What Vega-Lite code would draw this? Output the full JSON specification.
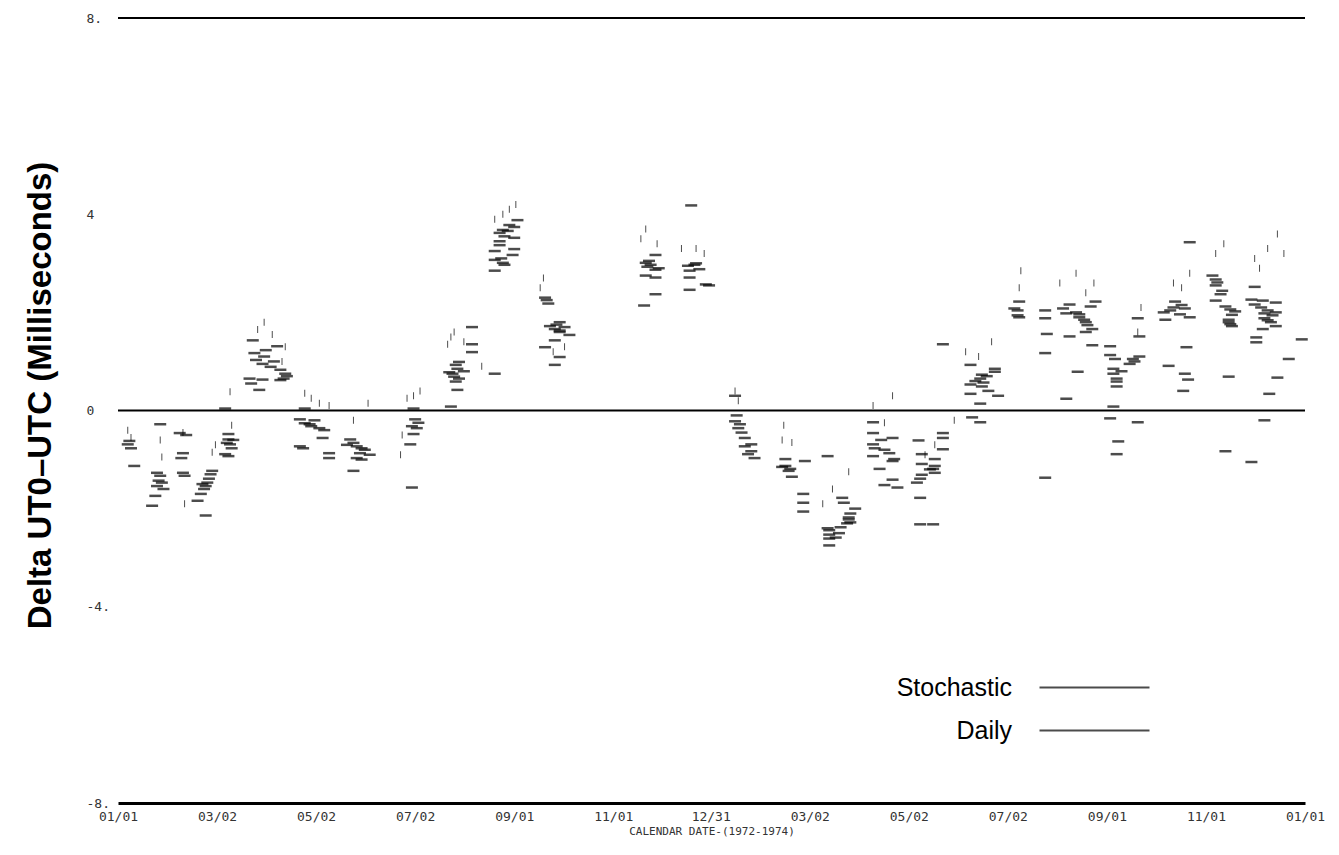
{
  "$schema": "https://vega.github.io/schema/vega-lite/v6.json",
  "width": 1187,
  "height": 785,
  "autosize": {"type": "none"},
  "padding": {"left": 118, "top": 18, "right": 34, "bottom": 52},
  "background": "white",
  "config": {"view": {"stroke": null}, "font": "DejaVu Sans Mono"},
  "datasets": {
    "levels": [{"ms": 8}, {"ms": 0}],
    "obs": [
      {"day":6,"ms":-0.69,"series":"Daily"},{"day":8,"ms":-0.77,"series":"Daily"},{"day":10,"ms":-1.13,"series":"Daily"},{"day":7,"ms":-0.62,"series":"Daily"},
      {"day":26,"ms":-0.28,"series":"Daily"},{"day":24,"ms":-1.27,"series":"Daily"},{"day":26,"ms":-1.33,"series":"Daily"},{"day":25,"ms":-1.43,"series":"Daily"},{"day":27,"ms":-1.47,"series":"Daily"},{"day":24,"ms":-1.54,"series":"Daily"},{"day":23,"ms":-1.74,"series":"Daily"},{"day":21,"ms":-1.94,"series":"Daily"},{"day":28,"ms":-1.6,"series":"Daily"},
      {"day":38,"ms":-0.46,"series":"Daily"},{"day":40,"ms":-0.87,"series":"Daily"},{"day":39,"ms":-0.97,"series":"Daily"},{"day":40,"ms":-1.27,"series":"Daily"},{"day":41,"ms":-1.33,"series":"Daily"},{"day":42,"ms":-0.5,"series":"Daily"},
      {"day":58,"ms":-1.23,"series":"Daily"},{"day":57,"ms":-1.3,"series":"Daily"},{"day":56,"ms":-1.39,"series":"Daily"},{"day":55,"ms":-1.47,"series":"Daily"},{"day":54,"ms":-1.54,"series":"Daily"},{"day":53,"ms":-1.6,"series":"Daily"},{"day":51,"ms":-1.7,"series":"Daily"},{"day":49,"ms":-1.84,"series":"Daily"},{"day":54,"ms":-2.14,"series":"Daily"},{"day":52,"ms":-1.5,"series":"Daily"},
      {"day":66,"ms":0.04,"series":"Daily"},{"day":68,"ms":-0.48,"series":"Daily"},{"day":68,"ms":-0.59,"series":"Daily"},{"day":67,"ms":-0.66,"series":"Daily"},{"day":69,"ms":-0.69,"series":"Daily"},{"day":70,"ms":-0.77,"series":"Daily"},{"day":66,"ms":-0.89,"series":"Daily"},{"day":68,"ms":-0.93,"series":"Daily"},{"day":71,"ms":-0.6,"series":"Daily"},
      {"day":83,"ms":1.43,"series":"Daily"},{"day":98,"ms":1.31,"series":"Daily"},{"day":91,"ms":1.23,"series":"Daily"},{"day":85,"ms":1.03,"series":"Daily"},{"day":89,"ms":0.95,"series":"Daily"},{"day":94,"ms":0.89,"series":"Daily"},{"day":100,"ms":0.83,"series":"Daily"},{"day":103,"ms":0.75,"series":"Daily"},{"day":81,"ms":0.65,"series":"Daily"},{"day":89,"ms":0.63,"series":"Daily"},{"day":102,"ms":0.65,"series":"Daily"},{"day":82,"ms":0.55,"series":"Daily"},{"day":87,"ms":0.42,"series":"Daily"},{"day":90,"ms":1.1,"series":"Daily"},{"day":96,"ms":1.0,"series":"Daily"},{"day":84,"ms":1.17,"series":"Daily"},{"day":100,"ms":0.62,"series":"Daily"},{"day":104,"ms":0.7,"series":"Daily"},
      {"day":115,"ms":0.04,"series":"Daily"},{"day":112,"ms":-0.18,"series":"Daily"},{"day":115,"ms":-0.26,"series":"Daily"},{"day":119,"ms":-0.32,"series":"Daily"},{"day":124,"ms":-0.36,"series":"Daily"},{"day":126,"ms":-0.56,"series":"Daily"},{"day":114,"ms":-0.77,"series":"Daily"},{"day":130,"ms":-0.87,"series":"Daily"},{"day":130,"ms":-0.97,"series":"Daily"},{"day":112,"ms":-0.73,"series":"Daily"},{"day":121,"ms":-0.2,"series":"Daily"},{"day":127,"ms":-0.4,"series":"Daily"},{"day":118,"ms":-0.28,"series":"Daily"},
      {"day":143,"ms":-0.59,"series":"Daily"},{"day":145,"ms":-0.66,"series":"Daily"},{"day":147,"ms":-0.73,"series":"Daily"},{"day":150,"ms":-0.77,"series":"Daily"},{"day":152,"ms":-0.8,"series":"Daily"},{"day":149,"ms":-0.87,"series":"Daily"},{"day":147,"ms":-0.97,"series":"Daily"},{"day":150,"ms":-1.0,"series":"Daily"},{"day":145,"ms":-1.23,"series":"Daily"},{"day":141,"ms":-0.7,"series":"Daily"},{"day":155,"ms":-0.9,"series":"Daily"},
      {"day":182,"ms":0.04,"series":"Daily"},{"day":183,"ms":-0.18,"series":"Daily"},{"day":181,"ms":-0.32,"series":"Daily"},{"day":184,"ms":-0.36,"series":"Daily"},{"day":182,"ms":-0.48,"series":"Daily"},{"day":180,"ms":-0.69,"series":"Daily"},{"day":181,"ms":-1.57,"series":"Daily"},{"day":185,"ms":-0.25,"series":"Daily"},
      {"day":218,"ms":1.7,"series":"Daily"},{"day":218,"ms":1.35,"series":"Daily"},{"day":218,"ms":1.19,"series":"Daily"},{"day":210,"ms":0.99,"series":"Daily"},{"day":208,"ms":0.93,"series":"Daily"},{"day":209,"ms":0.85,"series":"Daily"},{"day":206,"ms":0.75,"series":"Daily"},{"day":207,"ms":0.69,"series":"Daily"},{"day":210,"ms":0.65,"series":"Daily"},{"day":208,"ms":0.59,"series":"Daily"},{"day":209,"ms":0.42,"series":"Daily"},{"day":205,"ms":0.08,"series":"Daily"},{"day":232,"ms":0.75,"series":"Daily"},{"day":213,"ms":0.8,"series":"Daily"},{"day":204,"ms":0.78,"series":"Daily"},
      {"day":246,"ms":3.88,"series":"Daily"},{"day":241,"ms":3.78,"series":"Daily"},{"day":244,"ms":3.74,"series":"Daily"},{"day":237,"ms":3.68,"series":"Daily"},{"day":240,"ms":3.66,"series":"Daily"},{"day":235,"ms":3.62,"series":"Daily"},{"day":244,"ms":3.52,"series":"Daily"},{"day":235,"ms":3.45,"series":"Daily"},{"day":235,"ms":3.37,"series":"Daily"},{"day":244,"ms":3.29,"series":"Daily"},{"day":232,"ms":3.25,"series":"Daily"},{"day":243,"ms":3.17,"series":"Daily"},{"day":232,"ms":3.07,"series":"Daily"},{"day":237,"ms":3.01,"series":"Daily"},{"day":238,"ms":2.97,"series":"Daily"},{"day":232,"ms":2.85,"series":"Daily"},{"day":238,"ms":3.55,"series":"Daily"},{"day":236,"ms":3.1,"series":"Daily"},
      {"day":263,"ms":2.3,"series":"Daily"},{"day":264,"ms":2.25,"series":"Daily"},{"day":265,"ms":2.18,"series":"Daily"},{"day":272,"ms":1.8,"series":"Daily"},{"day":270,"ms":1.75,"series":"Daily"},{"day":269,"ms":1.66,"series":"Daily"},{"day":272,"ms":1.63,"series":"Daily"},{"day":272,"ms":1.6,"series":"Daily"},{"day":278,"ms":1.54,"series":"Daily"},{"day":269,"ms":1.43,"series":"Daily"},{"day":263,"ms":1.29,"series":"Daily"},{"day":272,"ms":1.09,"series":"Daily"},{"day":269,"ms":0.93,"series":"Daily"},{"day":275,"ms":1.7,"series":"Daily"},{"day":266,"ms":1.72,"series":"Daily"},
      {"day":325,"ms":3.01,"series":"Daily"},{"day":328,"ms":2.97,"series":"Daily"},{"day":326,"ms":2.93,"series":"Daily"},{"day":331,"ms":2.87,"series":"Daily"},{"day":325,"ms":2.75,"series":"Daily"},{"day":331,"ms":2.71,"series":"Daily"},{"day":331,"ms":2.37,"series":"Daily"},{"day":324,"ms":2.14,"series":"Daily"},{"day":331,"ms":3.17,"series":"Daily"},{"day":327,"ms":3.05,"series":"Daily"},{"day":333,"ms":2.9,"series":"Daily"},
      {"day":353,"ms":4.18,"series":"Daily"},{"day":351,"ms":2.95,"series":"Daily"},{"day":355,"ms":2.97,"series":"Daily"},{"day":352,"ms":2.85,"series":"Daily"},{"day":352,"ms":2.71,"series":"Daily"},{"day":362,"ms":2.57,"series":"Daily"},{"day":364,"ms":2.55,"series":"Daily"},{"day":352,"ms":2.46,"series":"Daily"},{"day":358,"ms":2.88,"series":"Daily"},{"day":356,"ms":3.0,"series":"Daily"},
      {"day":380,"ms":0.3,"series":"Daily"},{"day":380,"ms":-0.22,"series":"Daily"},{"day":382,"ms":-0.36,"series":"Daily"},{"day":383,"ms":-0.28,"series":"Daily"},{"day":386,"ms":-0.56,"series":"Daily"},{"day":386,"ms":-0.73,"series":"Daily"},{"day":390,"ms":-0.69,"series":"Daily"},{"day":390,"ms":-0.83,"series":"Daily"},{"day":388,"ms":-0.89,"series":"Daily"},{"day":392,"ms":-0.97,"series":"Daily"},{"day":384,"ms":-0.45,"series":"Daily"},{"day":381,"ms":-0.1,"series":"Daily"},
      {"day":411,"ms":-0.99,"series":"Daily"},{"day":423,"ms":-1.03,"series":"Daily"},{"day":411,"ms":-1.13,"series":"Daily"},{"day":414,"ms":-1.19,"series":"Daily"},{"day":413,"ms":-1.23,"series":"Daily"},{"day":415,"ms":-1.35,"series":"Daily"},{"day":422,"ms":-1.7,"series":"Daily"},{"day":422,"ms":-1.88,"series":"Daily"},{"day":422,"ms":-2.06,"series":"Daily"},{"day":409,"ms":-1.15,"series":"Daily"},
      {"day":437,"ms":-0.93,"series":"Daily"},{"day":446,"ms":-1.78,"series":"Daily"},{"day":447,"ms":-1.88,"series":"Daily"},{"day":454,"ms":-2.0,"series":"Daily"},{"day":451,"ms":-2.1,"series":"Daily"},{"day":450,"ms":-2.18,"series":"Daily"},{"day":450,"ms":-2.22,"series":"Daily"},{"day":451,"ms":-2.28,"series":"Daily"},{"day":445,"ms":-2.38,"series":"Daily"},{"day":437,"ms":-2.4,"series":"Daily"},{"day":438,"ms":-2.44,"series":"Daily"},{"day":438,"ms":-2.53,"series":"Daily"},{"day":442,"ms":-2.59,"series":"Daily"},{"day":438,"ms":-2.61,"series":"Daily"},{"day":438,"ms":-2.75,"series":"Daily"},{"day":444,"ms":-2.5,"series":"Daily"},{"day":449,"ms":-2.3,"series":"Daily"},
      {"day":465,"ms":-0.24,"series":"Daily"},{"day":465,"ms":-0.46,"series":"Daily"},{"day":477,"ms":-0.56,"series":"Daily"},{"day":465,"ms":-0.69,"series":"Daily"},{"day":466,"ms":-0.77,"series":"Daily"},{"day":472,"ms":-0.8,"series":"Daily"},{"day":475,"ms":-0.87,"series":"Daily"},{"day":465,"ms":-0.93,"series":"Daily"},{"day":478,"ms":-0.99,"series":"Daily"},{"day":477,"ms":-1.03,"series":"Daily"},{"day":469,"ms":-1.19,"series":"Daily"},{"day":477,"ms":-1.41,"series":"Daily"},{"day":472,"ms":-1.52,"series":"Daily"},{"day":480,"ms":-1.57,"series":"Daily"},{"day":470,"ms":-0.6,"series":"Daily"},
      {"day":508,"ms":-0.46,"series":"Daily"},{"day":508,"ms":-0.56,"series":"Daily"},{"day":493,"ms":-0.61,"series":"Daily"},{"day":508,"ms":-0.79,"series":"Daily"},{"day":495,"ms":-0.89,"series":"Daily"},{"day":503,"ms":-0.99,"series":"Daily"},{"day":495,"ms":-1.09,"series":"Daily"},{"day":503,"ms":-1.13,"series":"Daily"},{"day":502,"ms":-1.19,"series":"Daily"},{"day":503,"ms":-1.27,"series":"Daily"},{"day":495,"ms":-1.31,"series":"Daily"},{"day":494,"ms":-1.39,"series":"Daily"},{"day":492,"ms":-1.47,"series":"Daily"},{"day":494,"ms":-1.78,"series":"Daily"},{"day":494,"ms":-2.32,"series":"Daily"},{"day":502,"ms":-2.32,"series":"Daily"},{"day":500,"ms":-1.2,"series":"Daily"},
      {"day":508,"ms":1.35,"series":"Daily"},{"day":525,"ms":0.93,"series":"Daily"},{"day":540,"ms":0.85,"series":"Daily"},{"day":540,"ms":0.79,"series":"Daily"},{"day":532,"ms":0.73,"series":"Daily"},{"day":531,"ms":0.65,"series":"Daily"},{"day":533,"ms":0.57,"series":"Daily"},{"day":525,"ms":0.53,"series":"Daily"},{"day":532,"ms":0.49,"series":"Daily"},{"day":536,"ms":0.4,"series":"Daily"},{"day":525,"ms":0.34,"series":"Daily"},{"day":542,"ms":0.3,"series":"Daily"},{"day":531,"ms":0.14,"series":"Daily"},{"day":526,"ms":-0.14,"series":"Daily"},{"day":531,"ms":-0.24,"series":"Daily"},{"day":528,"ms":0.6,"series":"Daily"},{"day":535,"ms":0.7,"series":"Daily"},
      {"day":555,"ms":2.22,"series":"Daily"},{"day":552,"ms":2.08,"series":"Daily"},{"day":554,"ms":2.04,"series":"Daily"},{"day":554,"ms":1.94,"series":"Daily"},{"day":555,"ms":1.9,"series":"Daily"},
      {"day":571,"ms":2.04,"series":"Daily"},{"day":571,"ms":1.88,"series":"Daily"},{"day":572,"ms":1.56,"series":"Daily"},{"day":571,"ms":1.17,"series":"Daily"},{"day":571,"ms":-1.37,"series":"Daily"},
      {"day":602,"ms":2.22,"series":"Daily"},{"day":586,"ms":2.16,"series":"Daily"},{"day":599,"ms":2.12,"series":"Daily"},{"day":582,"ms":2.08,"series":"Daily"},{"day":584,"ms":1.98,"series":"Daily"},{"day":592,"ms":1.96,"series":"Daily"},{"day":592,"ms":1.9,"series":"Daily"},{"day":596,"ms":1.8,"series":"Daily"},{"day":597,"ms":1.74,"series":"Daily"},{"day":600,"ms":1.66,"series":"Daily"},{"day":596,"ms":1.6,"series":"Daily"},{"day":586,"ms":1.51,"series":"Daily"},{"day":600,"ms":1.33,"series":"Daily"},{"day":591,"ms":0.79,"series":"Daily"},{"day":584,"ms":0.24,"series":"Daily"},{"day":590,"ms":2.0,"series":"Daily"},{"day":595,"ms":1.85,"series":"Daily"},
      {"day":628,"ms":1.88,"series":"Daily"},{"day":629,"ms":1.51,"series":"Daily"},{"day":611,"ms":1.31,"series":"Daily"},{"day":611,"ms":1.13,"series":"Daily"},{"day":629,"ms":1.1,"series":"Daily"},{"day":614,"ms":1.05,"series":"Daily"},{"day":626,"ms":1.0,"series":"Daily"},{"day":623,"ms":0.95,"series":"Daily"},{"day":613,"ms":0.85,"series":"Daily"},{"day":613,"ms":0.75,"series":"Daily"},{"day":615,"ms":0.65,"series":"Daily"},{"day":615,"ms":0.59,"series":"Daily"},{"day":615,"ms":0.49,"series":"Daily"},{"day":613,"ms":0.08,"series":"Daily"},{"day":611,"ms":-0.16,"series":"Daily"},{"day":628,"ms":-0.24,"series":"Daily"},{"day":616,"ms":-0.63,"series":"Daily"},{"day":615,"ms":-0.89,"series":"Daily"},{"day":625,"ms":1.05,"series":"Daily"},{"day":618,"ms":0.8,"series":"Daily"},
      {"day":651,"ms":2.22,"series":"Daily"},{"day":657,"ms":2.08,"series":"Daily"},{"day":648,"ms":2.04,"series":"Daily"},{"day":644,"ms":2.0,"series":"Daily"},{"day":654,"ms":1.96,"series":"Daily"},{"day":660,"ms":1.9,"series":"Daily"},{"day":658,"ms":1.29,"series":"Daily"},{"day":647,"ms":0.91,"series":"Daily"},{"day":657,"ms":0.75,"series":"Daily"},{"day":659,"ms":0.63,"series":"Daily"},{"day":656,"ms":0.4,"series":"Daily"},{"day":650,"ms":2.1,"series":"Daily"},{"day":655,"ms":2.15,"series":"Daily"},{"day":645,"ms":1.85,"series":"Daily"},
      {"day":674,"ms":2.75,"series":"Daily"},{"day":676,"ms":2.67,"series":"Daily"},{"day":677,"ms":2.61,"series":"Daily"},{"day":676,"ms":2.55,"series":"Daily"},{"day":680,"ms":2.44,"series":"Daily"},{"day":679,"ms":2.37,"series":"Daily"},{"day":676,"ms":2.24,"series":"Daily"},{"day":682,"ms":2.12,"series":"Daily"},{"day":685,"ms":2.06,"series":"Daily"},{"day":688,"ms":2.02,"series":"Daily"},{"day":684,"ms":1.8,"series":"Daily"},{"day":685,"ms":1.76,"series":"Daily"},{"day":686,"ms":1.72,"series":"Daily"},{"day":684,"ms":0.69,"series":"Daily"},{"day":682,"ms":-0.83,"series":"Daily"},{"day":660,"ms":3.43,"series":"Daily"},{"day":684,"ms":1.85,"series":"Daily"},{"day":686,"ms":1.95,"series":"Daily"},
      {"day":700,"ms":2.52,"series":"Daily"},{"day":698,"ms":2.26,"series":"Daily"},{"day":705,"ms":2.24,"series":"Daily"},{"day":713,"ms":2.2,"series":"Daily"},{"day":700,"ms":2.16,"series":"Daily"},{"day":708,"ms":2.04,"series":"Daily"},{"day":713,"ms":2.0,"series":"Daily"},{"day":706,"ms":1.98,"series":"Daily"},{"day":711,"ms":1.94,"series":"Daily"},{"day":706,"ms":1.88,"series":"Daily"},{"day":708,"ms":1.84,"series":"Daily"},{"day":713,"ms":1.72,"series":"Daily"},{"day":705,"ms":1.66,"series":"Daily"},{"day":701,"ms":1.49,"series":"Daily"},{"day":701,"ms":1.39,"series":"Daily"},{"day":721,"ms":1.05,"series":"Daily"},{"day":714,"ms":0.67,"series":"Daily"},{"day":709,"ms":0.34,"series":"Daily"},{"day":706,"ms":-0.2,"series":"Daily"},{"day":698,"ms":-1.05,"series":"Daily"},{"day":729,"ms":1.45,"series":"Daily"},{"day":704,"ms":2.1,"series":"Daily"},{"day":710,"ms":1.8,"series":"Daily"},
      {"day":6,"ms":-0.4,"series":"Stochastic"},{"day":8,"ms":-0.55,"series":"Stochastic"},{"day":26,"ms":-0.6,"series":"Stochastic"},{"day":27,"ms":-0.95,"series":"Stochastic"},{"day":40,"ms":-0.45,"series":"Stochastic"},{"day":41,"ms":-1.9,"series":"Stochastic"},{"day":58,"ms":-0.85,"series":"Stochastic"},{"day":60,"ms":-0.7,"series":"Stochastic"},{"day":69,"ms":0.38,"series":"Stochastic"},{"day":70,"ms":-0.3,"series":"Stochastic"},
      {"day":86,"ms":1.65,"series":"Stochastic"},{"day":90,"ms":1.8,"series":"Stochastic"},{"day":95,"ms":1.55,"series":"Stochastic"},{"day":103,"ms":1.3,"series":"Stochastic"},{"day":101,"ms":1.0,"series":"Stochastic"},{"day":115,"ms":0.35,"series":"Stochastic"},{"day":119,"ms":0.25,"series":"Stochastic"},{"day":124,"ms":0.15,"series":"Stochastic"},{"day":130,"ms":0.1,"series":"Stochastic"},{"day":145,"ms":-0.2,"series":"Stochastic"},
      {"day":154,"ms":0.15,"series":"Stochastic"},{"day":174,"ms":-0.9,"series":"Stochastic"},{"day":175,"ms":-0.5,"series":"Stochastic"},{"day":178,"ms":0.25,"series":"Stochastic"},{"day":182,"ms":0.3,"series":"Stochastic"},{"day":186,"ms":0.4,"series":"Stochastic"},{"day":203,"ms":1.35,"series":"Stochastic"},{"day":205,"ms":1.5,"series":"Stochastic"},{"day":213,"ms":1.4,"series":"Stochastic"},{"day":207,"ms":1.6,"series":"Stochastic"},
      {"day":237,"ms":4.0,"series":"Stochastic"},{"day":241,"ms":4.1,"series":"Stochastic"},{"day":245,"ms":4.2,"series":"Stochastic"},{"day":232,"ms":3.9,"series":"Stochastic"},{"day":224,"ms":0.9,"series":"Stochastic"},{"day":260,"ms":2.5,"series":"Stochastic"},{"day":262,"ms":2.7,"series":"Stochastic"},{"day":268,"ms":1.2,"series":"Stochastic"},{"day":275,"ms":1.3,"series":"Stochastic"},{"day":322,"ms":3.5,"series":"Stochastic"},
      {"day":332,"ms":3.4,"series":"Stochastic"},{"day":325,"ms":3.7,"series":"Stochastic"},{"day":347,"ms":3.3,"series":"Stochastic"},{"day":356,"ms":3.3,"series":"Stochastic"},{"day":361,"ms":3.2,"series":"Stochastic"},{"day":380,"ms":0.4,"series":"Stochastic"},{"day":382,"ms":0.2,"series":"Stochastic"},{"day":409,"ms":-0.6,"series":"Stochastic"},{"day":410,"ms":-0.3,"series":"Stochastic"},{"day":415,"ms":-0.65,"series":"Stochastic"},
      {"day":434,"ms":-1.9,"series":"Stochastic"},{"day":440,"ms":-1.6,"series":"Stochastic"},{"day":450,"ms":-1.25,"series":"Stochastic"},{"day":472,"ms":-0.25,"series":"Stochastic"},{"day":477,"ms":0.3,"series":"Stochastic"},{"day":465,"ms":0.1,"series":"Stochastic"},{"day":497,"ms":-0.9,"series":"Stochastic"},{"day":515,"ms":-0.2,"series":"Stochastic"},{"day":503,"ms":-0.7,"series":"Stochastic"},{"day":522,"ms":1.2,"series":"Stochastic"},
      {"day":530,"ms":1.1,"series":"Stochastic"},{"day":538,"ms":1.4,"series":"Stochastic"},{"day":555,"ms":2.5,"series":"Stochastic"},{"day":556,"ms":2.85,"series":"Stochastic"},{"day":580,"ms":2.6,"series":"Stochastic"},{"day":590,"ms":2.8,"series":"Stochastic"},{"day":596,"ms":2.4,"series":"Stochastic"},{"day":601,"ms":2.6,"series":"Stochastic"},{"day":628,"ms":1.6,"series":"Stochastic"},{"day":630,"ms":2.1,"series":"Stochastic"},
      {"day":650,"ms":2.6,"series":"Stochastic"},{"day":655,"ms":2.5,"series":"Stochastic"},{"day":660,"ms":2.8,"series":"Stochastic"},{"day":676,"ms":3.2,"series":"Stochastic"},{"day":681,"ms":3.4,"series":"Stochastic"},{"day":703,"ms":2.9,"series":"Stochastic"},{"day":708,"ms":3.3,"series":"Stochastic"},{"day":714,"ms":3.6,"series":"Stochastic"},{"day":718,"ms":3.2,"series":"Stochastic"},{"day":700,"ms":3.1,"series":"Stochastic"}
    ]
  },
  "encoding": {
    "y": {
      "field": "ms",
      "type": "quantitative",
      "scale": {"domain": [-8, 8], "nice": false, "zero": false},
      "axis": {
        "title": "Delta UT0–UTC (Milliseconds)",
        "titleFont": "Liberation Sans",
        "titleFontSize": 33,
        "titleFontWeight": "bold",
        "titleColor": "black",
        "titleX": -78,
        "titleY": 377,
        "titleAngle": -90,
        "titleAlign": "center",
        "titleBaseline": "middle",
        "values": [-8, -4, 0, 4, 8],
        "labelExpr": "datum.value == 8 ? '8.' : datum.value == -4 ? '-4.' : datum.value == -8 ? '-8.' : datum.value == 0 ? '0' : '4'",
        "labelFont": "DejaVu Sans Mono",
        "labelFontSize": 13,
        "labelColor": "#333",
        "labelAlign": "left",
        "labelPadding": 32,
        "grid": false,
        "domain": false,
        "ticks": false
      }
    }
  },
  "layer": [
    {
      "data": {"name": "levels"},
      "mark": {"type": "rule", "color": "black", "strokeWidth": 2}
    },
    {
      "data": {"name": "obs"},
      "transform": [{"filter": "datum.series == 'Daily'"}],
      "mark": {"type": "tick", "orient": "horizontal", "size": 12, "thickness": 2.5, "color": "black"},
      "encoding": {
        "x": {
          "field": "day",
          "type": "quantitative",
          "scale": {"domain": [0, 731], "nice": false, "zero": false},
          "axis": {
            "title": "CALENDAR DATE-(1972-1974)",
            "titleFont": "DejaVu Sans Mono",
            "titleFontSize": 11,
            "titleFontWeight": "normal",
            "titleColor": "#333",
            "titlePadding": 2,
            "values": [0, 61, 122, 183, 244, 305, 365, 426, 487, 548, 609, 670, 731],
            "labelExpr": "['01/01','03/02','05/02','07/02','09/01','11/01','12/31','03/02','05/02','07/02','09/01','11/01','01/01'][indexof([0,61,122,183,244,305,365,426,487,548,609,670,731], datum.value)]",
            "labelFont": "DejaVu Sans Mono",
            "labelFontSize": 13,
            "labelColor": "#333",
            "labelPadding": 7,
            "labelOverlap": false,
            "labelFlush": false,
            "grid": false,
            "domain": true,
            "domainColor": "black",
            "domainWidth": 3,
            "ticks": false
          }
        },
        "color": {
          "field": "series",
          "type": "nominal",
          "scale": {"domain": ["Stochastic", "Daily"], "range": ["black", "black"]},
          "legend": {
            "orient": "none",
            "legendX": 964,
            "legendY": 657,
            "title": null,
            "padding": 0,
            "symbolType": "M-5,0H5",
            "symbolSize": 484,
            "symbolStrokeWidth": 2,
            "symbolStrokeColor": "black",
            "rowPadding": 17,
            "labelAlign": "right",
            "labelOffset": -95,
            "labelFont": "Liberation Sans",
            "labelFontSize": 25,
            "labelColor": "black",
            "labelLimit": 0,
            "encode": {
              "symbols": {
                "update": {
                  "stroke": {"value": "black"},
                  "strokeWidth": {"value": 2},
                  "opacity": {"value": 1},
                  "fill": {"value": "transparent"}
                }
              }
            }
          }
        }
      }
    },
    {
      "data": {"name": "obs"},
      "transform": [{"filter": "datum.series == 'Stochastic'"}],
      "mark": {"type": "tick", "orient": "vertical", "size": 7, "thickness": 1, "opacity": 0.7},
      "encoding": {
        "x": {
          "field": "day",
          "type": "quantitative",
          "scale": {"domain": [0, 731], "nice": false, "zero": false}
        },
        "color": {
          "field": "series",
          "type": "nominal",
          "scale": {"domain": ["Stochastic", "Daily"], "range": ["black", "black"]}
        }
      }
    }
  ]
}
